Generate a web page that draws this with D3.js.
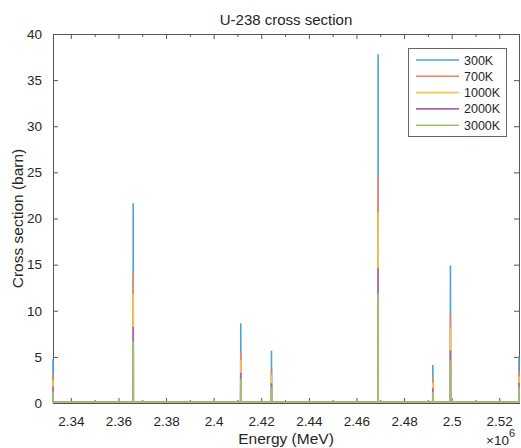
<!DOCTYPE html>
<html>
<head>
<meta charset="utf-8">
<script src="https://cdn.jsdelivr.net/npm/d3@7"></script>
<style>
  html, body { margin: 0; padding: 0; background: #fff; }
  svg { display: block; font-family: "Liberation Sans", Arial, sans-serif; }
</style>
</head>
<body>
<svg id="chart" width="521" height="448"></svg>
<script>
// Energy grid (eV): window edges and resonance positions
const energy = [2.3325e6, 2.3662e6, 2.4114e6, 2.4243e6, 2.4691e6, 2.4921e6, 2.4995e6, 2.5283e6];

// Cross section (barn) at each energy above, one list per temperature
const temperatures = ["300K", "700K", "1000K", "2000K", "3000K"];
const sigma300K  = [4.75, 21.65, 8.64, 5.67, 37.8, 4.12, 14.9, 5.0];
const sigma700K  = [3.25, 14.1,  5.56, 3.65, 24.7, 2.70, 9.7,  3.5];
const sigma1000K = [2.50, 11.8,  4.66, 3.03, 20.7, 2.20, 8.1,  2.9];
const sigma2000K = [1.77, 8.27,  3.29, 2.13, 14.6, 1.60, 5.7,  2.2];
const sigma3000K = [1.22, 6.72,  2.60, 1.70, 11.9, 1.20, 4.7,  1.7];
const background = [0.08, 0.08, 0.08, 0.08, 0.08]; // smooth cross section between resonances

const xTicks = [2.34e6, 2.36e6, 2.38e6, 2.40e6, 2.42e6, 2.44e6, 2.46e6, 2.48e6, 2.50e6, 2.52e6];
const xMinorTicks = [2.35e6, 2.37e6, 2.39e6, 2.41e6, 2.43e6, 2.45e6, 2.47e6, 2.49e6, 2.51e6];
const yTicks = [0, 5, 10, 15, 20, 25, 30, 35, 40];

const seriesValues = [sigma300K, sigma700K, sigma1000K, sigma2000K, sigma3000K];
const colors = ["#4ea2db", "#ec8660", "#f6c54d", "#a763b8", "#9cc76c"];

const W = 521, H = 448;
const m = { left: 53, top: 34, right: 2, bottom: 45 };
const pw = W - m.left - m.right, ph = H - m.top - m.bottom;

const svg = d3.select("#chart");
const g = svg.append("g").attr("transform", `translate(${m.left},${m.top})`);

const x = d3.scaleLinear().domain([energy[0], energy[energy.length - 1]]).range([0, pw]);
const y = d3.scaleLinear().domain([0, 40]).range([ph, 0]);

const axisColor = "#555";
const fmtX = d => String(+(d / 1e6).toFixed(2));

function styleAxis(sel) {
  sel.select(".domain").remove();
  sel.selectAll(".tick line").attr("stroke", axisColor).attr("stroke-width", 1);
  sel.selectAll(".tick text").attr("fill", "#262626").style("font-size", "13.5px")
     .style("font-family", "'Liberation Sans', Arial, sans-serif");
}

// bottom axis (ticks point inward)
g.append("g").attr("transform", `translate(0,${ph})`)
  .call(d3.axisBottom(x).tickValues(xTicks).tickFormat(fmtX).tickSizeInner(-5).tickSizeOuter(0).tickPadding(13))
  .call(styleAxis);
g.append("g").attr("transform", `translate(0,${ph})`)
  .call(d3.axisBottom(x).tickValues(xMinorTicks).tickFormat("").tickSizeInner(-3).tickSizeOuter(0))
  .call(styleAxis);
// top axis mirror ticks
g.append("g")
  .call(d3.axisTop(x).tickValues(xTicks).tickFormat("").tickSizeInner(-5).tickSizeOuter(0))
  .call(styleAxis);
g.append("g")
  .call(d3.axisTop(x).tickValues(xMinorTicks).tickFormat("").tickSizeInner(-3).tickSizeOuter(0))
  .call(styleAxis);
// left axis
g.append("g")
  .call(d3.axisLeft(y).tickValues(yTicks).tickSizeInner(-5).tickSizeOuter(0).tickPadding(11))
  .call(styleAxis);
// right axis mirror ticks
g.append("g").attr("transform", `translate(${pw},0)`)
  .call(d3.axisRight(y).tickValues(yTicks).tickFormat("").tickSizeInner(-5).tickSizeOuter(0))
  .call(styleAxis);

// axes box
g.append("rect").attr("x", 0).attr("y", 0).attr("width", pw).attr("height", ph)
  .attr("fill", "none").attr("stroke", axisColor).attr("stroke-width", 1)
  .attr("shape-rendering", "crispEdges");

// Build each curve: narrow resonance spikes over the smooth background
const halfWidth = 40; // eV
function curvePoints(vals, bg) {
  const pts = [];
  const n = energy.length;
  energy.forEach((e, i) => {
    if (i === 0) { pts.push([e, vals[i]], [e + halfWidth, bg]); }
    else if (i === n - 1) { pts.push([e - halfWidth, bg], [e, vals[i]]); }
    else { pts.push([e - halfWidth, bg], [e, vals[i]], [e + halfWidth, bg]); }
  });
  return pts;
}

const line = d3.line().x(d => x(d[0])).y(d => y(d[1]));

g.append("g").selectAll("path")
  .data(seriesValues.map((v, i) => ({ pts: curvePoints(v, background[i]), color: colors[i] })))
  .join("path")
  .attr("d", d => line(d.pts))
  .attr("fill", "none")
  .attr("stroke", d => d.color)
  .attr("stroke-width", 1.6)
  .attr("stroke-linejoin", "miter");

// title and axis labels
svg.append("text").attr("x", m.left + pw / 2).attr("y", 25).attr("text-anchor", "middle")
  .style("font-size", "15px").attr("fill", "#262626").text("U-238 cross section");
svg.append("text").attr("x", m.left + pw / 2).attr("y", 444).attr("text-anchor", "middle")
  .style("font-size", "15.5px").attr("fill", "#262626").text("Energy (MeV)");
svg.append("text").attr("transform", `translate(23,${m.top + ph / 2}) rotate(-90)`)
  .attr("text-anchor", "middle").style("font-size", "15.5px").attr("fill", "#262626")
  .text("Cross section (barn)");

// exponent label
const ex = svg.append("text").attr("x", 486).attr("y", 445).attr("fill", "#262626").style("font-size", "13.5px");
ex.append("tspan").text("×10");
ex.append("tspan").attr("dy", -8).style("font-size", "11px").text("6");

// legend
const lg = svg.append("g").attr("transform", "translate(408,48)");
lg.append("rect").attr("width", 98).attr("height", 88).attr("fill", "#fff")
  .attr("stroke", "#666").attr("stroke-width", 1).attr("shape-rendering", "crispEdges");
temperatures.forEach((t, i) => {
  const yy = 12 + i * 16.3;
  lg.append("line").attr("x1", 8).attr("x2", 51).attr("y1", yy).attr("y2", yy)
    .attr("stroke", colors[i]).attr("stroke-width", 1.6);
  lg.append("text").attr("x", 56).attr("y", yy + 4.5).style("font-size", "12.5px")
    .attr("fill", "#262626").text(t);
});
</script>
</body>
</html>
